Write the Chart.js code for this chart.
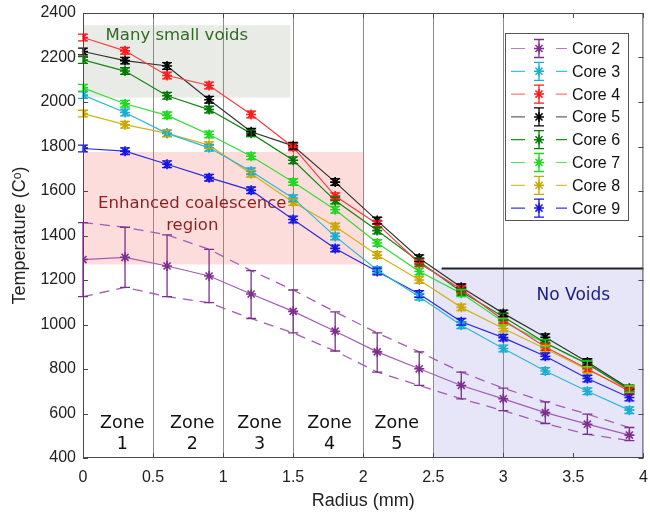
<!DOCTYPE html>
<html>
<head>
<meta charset="utf-8">
<title>Core temperatures</title>
<script src="https://cdn.jsdelivr.net/npm/chart.js@4/dist/chart.umd.min.js"></script>
<style>
  html, body { margin: 0; padding: 0; background: #fff; }
</style>
</head>
<body>
<canvas id="temp-graph" width="650" height="514"></canvas>
<script>
// radius positions (mm)
var radius = [0, 0.3, 0.6, 0.9, 1.2, 1.5, 1.8, 2.1, 2.4, 2.7, 3.0, 3.3, 3.6, 3.9];

// temperatures per core
var core2 = [1292, 1302, 1263, 1218, 1137, 1059, 970, 877, 801, 726, 666, 604, 552, 503];
var core2Upper = [1458, 1437, 1403, 1338, 1242, 1155, 1057, 962, 877, 786, 714, 652, 597, 537];
var core2Lower = [1125, 1167, 1125, 1098, 1027, 962, 881, 786, 726, 666, 613, 555, 506, 478];
var core3 = [2031, 1953, 1859, 1794, 1689, 1568, 1396, 1245, 1125, 997, 892, 791, 700, 615];
var core4 = [2290, 2230, 2119, 2074, 1944, 1797, 1577, 1452, 1275, 1158, 1020, 899, 801, 700];
var core5 = [2227, 2186, 2162, 2010, 1866, 1803, 1640, 1467, 1298, 1167, 1050, 943, 831, 712];
var core6 = [2189, 2139, 2028, 1966, 1859, 1738, 1557, 1422, 1283, 1147, 1035, 918, 824, 706];
var core7 = [2064, 1992, 1940, 1854, 1756, 1640, 1516, 1366, 1238, 1140, 1012, 916, 821, 712];
var core8 = [1948, 1898, 1859, 1806, 1678, 1550, 1440, 1312, 1200, 1077, 982, 891, 797, 708];
var core9 = [1791, 1779, 1720, 1660, 1603, 1472, 1342, 1238, 1137, 1012, 941, 857, 757, 672];

// +/- error for cores 3..9
var coreErr = 15;

var coreNames = ["Core 2", "Core 3", "Core 4", "Core 5", "Core 6", "Core 7", "Core 8", "Core 9"];
var yTicks = [400, 600, 800, 1000, 1200, 1400, 1600, 1800, 2000, 2200, 2400];
var zoneNames = ["1", "2", "3", "4", "5"];
var zoneCenters = [0.28, 0.78, 1.26, 1.76, 2.24];

var FONT = "'DejaVu Sans', Verdana, sans-serif";
var AXFONT = "'Liberation Sans', Arial, sans-serif";

function pts(ys) {
    return radius.map(function (r, i) { return { x: r, y: ys[i] }; });
}

function coreSet(label, ys, mark, line, hi, lo) {
    return {
        label: label,
        data: pts(ys),
        borderColor: line,
        backgroundColor: mark,
        pointBorderColor: mark,
        pointBackgroundColor: mark,
        pointStyle: 'star',
        pointRadius: 5,
        pointBorderWidth: 1.6,
        borderWidth: 1.2,
        tension: 0,
        fill: false,
        hi: hi || ys.map(function (v) { return v + coreErr; }),
        lo: lo || ys.map(function (v) { return v - coreErr; })
    };
}

function boundSet(ys, col) {
    return {
        label: '',
        data: pts(ys),
        borderColor: col,
        borderWidth: 1.3,
        borderDash: [10, 7],
        pointRadius: 0,
        fill: false,
        bound: true
    };
}

var datasets = [
    coreSet("Core 2", core2, '#7e2f8e', '#a55bb6', core2Upper, core2Lower),
    coreSet("Core 3", core3, '#18aed0', '#2bb8d8'),
    coreSet("Core 4", core4, '#ff1a1a', '#ff3c3c'),
    coreSet("Core 5", core5, '#000000', '#333333'),
    coreSet("Core 6", core6, '#007a00', '#118811'),
    coreSet("Core 7", core7, '#1ed81e', '#33dd33'),
    coreSet("Core 8", core8, '#c9a800', '#d2b416'),
    coreSet("Core 9", core9, '#1414e6', '#2a2ae8'),
    boundSet(core2Upper, '#a55bb6'),
    boundSet(core2Lower, '#a55bb6')
];

var legendLine = ['#b77ec4', '#3cc3e0', '#ff7a7a', '#666666', '#1f8f1f', '#55e055', '#dcc23a', '#3a3ae8'];

function errBar(c, x, yHi, yLo, cap) {
    c.beginPath();
    c.moveTo(x, yHi); c.lineTo(x, yLo);
    c.moveTo(x - cap, yHi); c.lineTo(x + cap, yHi);
    c.moveTo(x - cap, yLo); c.lineTo(x + cap, yLo);
    c.stroke();
}

var decorPlugin = {
    id: 'decor',
    beforeDraw: function (chart) {
        var c = chart.ctx, xs = chart.scales.x, ys = chart.scales.y;
        function box(x0, x1, y0, y1, col) {
            var l = xs.getPixelForValue(x0), r = xs.getPixelForValue(x1);
            var t = ys.getPixelForValue(y1), b = ys.getPixelForValue(y0);
            c.fillStyle = col;
            c.fillRect(l, t, r - l, b - t);
        }
        c.save();
        c.fillStyle = '#fff';
        c.fillRect(0, 0, chart.width, chart.height);
        box(0, 1.48, 2020, 2345, '#e8ebe6');
        box(0, 2.0, 1270, 1775, '#fddcdc');
        box(2.5, 4, 400, 1252, '#e6e6f8');
        c.restore();
    },
    beforeDatasetsDraw: function (chart) {
        var c = chart.ctx, xs = chart.scales.x, ys = chart.scales.y;
        c.save();
        // no voids threshold line
        c.strokeStyle = '#222';
        c.lineWidth = 2;
        c.beginPath();
        c.moveTo(xs.getPixelForValue(2.56), ys.getPixelForValue(1252));
        c.lineTo(xs.getPixelForValue(4), ys.getPixelForValue(1252));
        c.stroke();

        c.textAlign = 'center';
        c.textBaseline = 'middle';
        c.font = '16.5px ' + FONT;
        c.fillStyle = '#2f6a22';
        c.fillText('Many small voids', xs.getPixelForValue(0.67), ys.getPixelForValue(2296));
        c.fillStyle = '#8e1f1f';
        c.fillText('Enhanced coalescence', xs.getPixelForValue(0.78), ys.getPixelForValue(1542));
        c.fillText('region', xs.getPixelForValue(0.78), ys.getPixelForValue(1444));
        c.font = '17px ' + FONT;
        c.fillStyle = '#1b1b86';
        c.fillText('No Voids', xs.getPixelForValue(3.5), ys.getPixelForValue(1128));

        c.font = '17.5px ' + FONT;
        c.fillStyle = '#111';
        zoneNames.forEach(function (z, i) {
            var px = xs.getPixelForValue(zoneCenters[i]);
            c.fillText('Zone', px, ys.getPixelForValue(555));
            c.fillText(z, px, ys.getPixelForValue(462));
        });
        c.restore();
    },
    afterDatasetsDraw: function (chart) {
        var c = chart.ctx, xs = chart.scales.x, ys = chart.scales.y;
        c.save();
        c.lineWidth = 1.3;
        chart.data.datasets.forEach(function (ds) {
            if (ds.bound) return;
            c.strokeStyle = ds.pointBorderColor;
            radius.forEach(function (r, i) {
                errBar(c, xs.getPixelForValue(r), ys.getPixelForValue(ds.hi[i]), ys.getPixelForValue(ds.lo[i]), 5);
            });
        });
        c.restore();
    },
    afterDraw: function (chart) {
        var c = chart.ctx, xs = chart.scales.x, ys = chart.scales.y, a = chart.chartArea;
        c.save();
        // axes box with inward ticks
        c.strokeStyle = '#4a4a4a';
        c.lineWidth = 1;
        c.strokeRect(a.left + 0.5, a.top + 0.5, a.right - a.left - 1, a.bottom - a.top - 1);
        c.beginPath();
        xs.ticks.forEach(function (t) {
            var px = Math.round(xs.getPixelForValue(t.value)) + 0.5;
            c.moveTo(px, a.bottom); c.lineTo(px, a.bottom - 5);
            c.moveTo(px, a.top); c.lineTo(px, a.top + 5);
        });
        ys.ticks.forEach(function (t) {
            var py = Math.round(ys.getPixelForValue(t.value)) + 0.5;
            c.moveTo(a.left, py); c.lineTo(a.left + 5, py);
            c.moveTo(a.right, py); c.lineTo(a.right - 5, py);
        });
        c.stroke();

        // legend
        var lx = 505.5, ly = 33.5, lw = 123, lh = 187;
        c.fillStyle = '#fff';
        c.fillRect(lx, ly, lw, lh);
        c.strokeStyle = '#555';
        c.strokeRect(lx, ly, lw, lh);
        c.font = '16px ' + AXFONT;
        c.textAlign = 'left';
        c.textBaseline = 'middle';
        coreNames.forEach(function (name, i) {
            var ds = chart.data.datasets[i];
            var y = 48.5 + i * 22.8;
            c.strokeStyle = legendLine[i];
            c.lineWidth = 1.2;
            c.beginPath();
            c.moveTo(511, y); c.lineTo(525, y);
            c.moveTo(556, y); c.lineTo(567, y);
            c.stroke();
            c.strokeStyle = ds.pointBorderColor;
            c.fillStyle = ds.pointBorderColor;
            c.lineWidth = 1.3;
            errBar(c, 539, y - 9, y + 9, 5);
            c.lineWidth = 1.5;
            Chart.helpers.drawPoint(c, { pointStyle: 'star', radius: 5, rotation: 0, borderWidth: 1.5 }, 539, y);
            c.fillStyle = '#111';
            c.fillText(name, 572, y + 1);
        });
        c.restore();
    }
};

var ctx = document.getElementById("temp-graph").getContext("2d");
var tempChart = new Chart(ctx, {
    type: 'line',
    data: { datasets: datasets },
    plugins: [decorPlugin],
    options: {
        responsive: false,
        animation: false,
        layout: { padding: { top: 13, right: 3, left: 0, bottom: 0 } },
        plugins: { legend: { display: false }, tooltip: { enabled: false } },
        scales: {
            x: {
                type: 'linear',
                min: 0,
                max: 4,
                ticks: {
                    stepSize: 0.5,
                    padding: 10,
                    maxRotation: 0,
                    color: '#222',
                    font: { family: AXFONT, size: 16 },
                    callback: function (v) { return String(v); }
                },
                grid: {
                    drawTicks: false,
                    lineWidth: 1,
                    color: function (g) {
                        var v = g.tick ? g.tick.value : 0;
                        return (v > 0 && v <= 3) ? '#8c8c8c' : 'rgba(0,0,0,0)';
                    }
                },
                border: { display: false },
                title: {
                    display: true,
                    text: 'Radius (mm)',
                    color: '#222',
                    font: { family: AXFONT, size: 18 },
                    padding: { top: 4, bottom: 2 }
                },
                afterFit: function (s) { s.height = 56; s.paddingLeft = 0; s.paddingRight = 0; }
            },
            y: {
                min: 400,
                max: 2400,
                afterBuildTicks: function (s) { s.ticks = yTicks.map(function (v) { return { value: v }; }); },
                ticks: {
                    padding: 7,
                    color: '#222',
                    font: { family: AXFONT, size: 16 },
                    callback: function (v) { return String(v); }
                },
                grid: { display: false, drawTicks: false },
                border: { display: false },
                title: {
                    display: true,
                    text: 'Temperature (C\u1D52)',
                    color: '#222',
                    font: { family: AXFONT, size: 18 },
                    padding: { top: 9, bottom: 4 }
                },
                afterFit: function (s) { s.width = 83; s.paddingTop = 0; s.paddingBottom = 0; }
            }
        }
    }
});
</script>
</body>
</html>
